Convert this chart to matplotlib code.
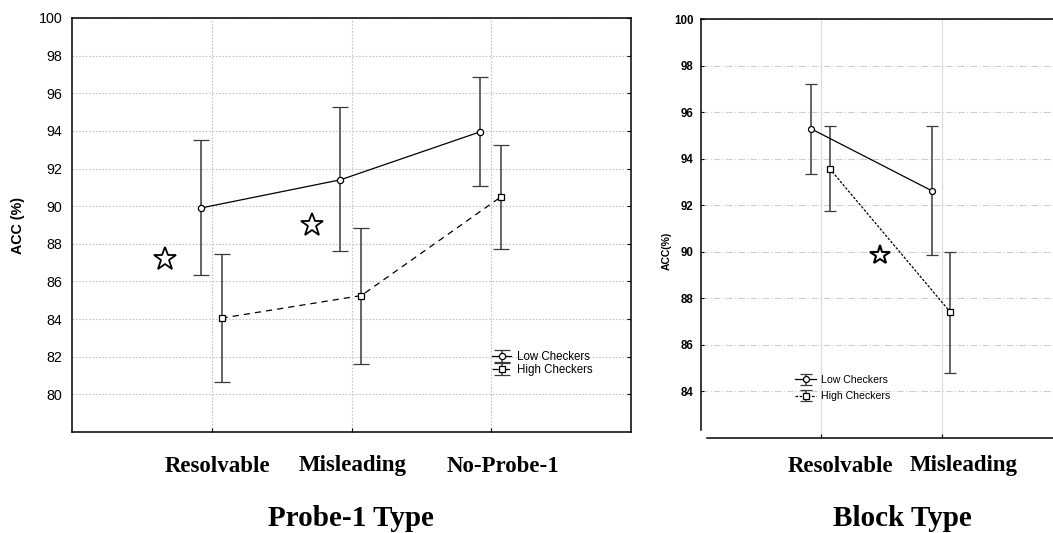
import numpy as np
import matplotlib
matplotlib.use("Agg")
from matplotlib import pyplot as plt
from matplotlib.transforms import blended_transform_factory

# ---- data ----
probe_types = ["Resolvable", "Misleading", "No-Probe-1"]
probe_low = [89.9, 91.4, 93.95]
probe_low_hi = [93.5, 95.25, 96.85]
probe_low_lo = [86.35, 87.6, 91.05]
probe_high = [84.05, 85.25, 90.5]
probe_high_hi = [87.45, 88.85, 93.25]
probe_high_lo = [80.65, 81.6, 87.75]
probe_star_x = [0.665, 1.717]
probe_star_y = [87.2, 89.0]

block_types = ["Resolvable", "Misleading"]
block_low = [95.28, 92.62]
block_low_hi = [97.2, 95.39]
block_low_lo = [93.35, 89.88]
block_high = [93.58, 87.42]
block_high_hi = [95.39, 90.0]
block_high_lo = [91.77, 84.78]
block_star_x = [1.49]
block_star_y = [89.84]

series_names = ["Low Checkers", "High Checkers"]

SANS = "Liberation Sans"
SERIF = "Liberation Serif"

W, H = 1053, 533
fig = plt.figure(figsize=(W / 100, H / 100), dpi=100)


def rect(x0, y0, x1, y1):
    return [x0 / W, 1 - y1 / H, (x1 - x0) / W, (y1 - y0) / H]


def draw_series(ax, xs, mean, hi, lo, marker, ls, ms, cap, dash):
    mean = np.array(mean)
    yerr = [mean - np.array(lo), np.array(hi) - mean]
    eb = ax.errorbar(xs, mean, yerr=yerr, fmt=marker, ls=ls, color="black",
                     lw=0.9, ms=ms, mfc="white", mec="black", mew=0.9,
                     ecolor="#3a3a3a", elinewidth=1.1, capsize=cap, capthick=1.1,
                     zorder=3)
    if dash is not None:
        eb.lines[0].set_dashes(dash)
    return eb


# ================= left panel =================
ax1 = fig.add_axes(rect(72, 18, 631, 432))
x1 = np.arange(1, len(probe_types) + 1)
h1 = draw_series(ax1, x1 - 0.08, probe_low, probe_low_hi, probe_low_lo, "o", "-", 4.5, 6, None)
h2 = draw_series(ax1, x1 + 0.07, probe_high, probe_high_hi, probe_high_lo, "s", "--", 4.2, 6, (5, 4))
ax1.plot(probe_star_x, probe_star_y, ls="none", marker="*", ms=17, mfc="white",
         mec="black", mew=1.3, zorder=4)

ax1.set_xlim(0, 4)
ax1.set_ylim(78, 100)
ax1.set_xticks(x1)
ax1.set_xticklabels([])
ax1.set_yticks(np.arange(80, 101, 2))
ax1.set_yticklabels([str(v) for v in range(80, 101, 2)], fontfamily=SANS, fontsize=10.3)
ax1.tick_params(axis="y", direction="in", length=3, left=False, right=True, pad=7)
ax1.tick_params(axis="x", direction="in", length=3, top=False)
ax1.grid(True, color="#c4c4c4", lw=0.8, ls=(0, (1.5, 1.5)))
for s in ax1.spines.values():
    s.set_linewidth(1.1)

tr1 = blended_transform_factory(ax1.transData, fig.transFigure)
for xi, lab, off in zip(x1, probe_types, [0.04, 0.01, 0.08]):
    ax1.text(xi + off, 1 - 471.5 / H, lab, transform=tr1, ha="center", va="baseline",
             fontfamily=SERIF, fontweight="bold", fontsize=16.5)
fig.text(351 / W, 1 - 526.5 / H, "Probe-1 Type", ha="center", va="baseline",
         fontfamily=SERIF, fontweight="bold", fontsize=21)
fig.text(18 / W, 1 - 225 / H, "ACC (%)", rotation=90, ha="center", va="center",
         fontfamily=SANS, fontweight="bold", fontsize=10.3)

ax1.legend([h1, h2], series_names, loc="upper left", bbox_to_anchor=(0.752, 0.195),
           frameon=False, prop={"family": SANS, "size": 8.3}, handlelength=1.6,
           handletextpad=0.5, labelspacing=0.05, borderpad=0, borderaxespad=0)

# ================= right panel =================
ax2 = fig.add_axes(rect(700.7, 19.3, 1062, 437.7))
x2 = np.arange(1, len(block_types) + 1)
g1 = draw_series(ax2, x2 - 0.08, block_low, block_low_hi, block_low_lo, "o", "-", 4.3, 4.2, None)
g2 = draw_series(ax2, x2 + 0.07, block_high, block_high_hi, block_high_lo, "s", "--", 4.3, 4.2, (2, 1.3))
ax2.plot(block_star_x, block_star_y, ls="none", marker="*", ms=15, mfc="white",
         mec="black", mew=1.5, zorder=4)

ax2.set_xlim(0, 3)
ax2.set_ylim(82, 100)
ax2.set_xticks(x2)
ax2.set_xticklabels([])
ax2.set_yticks(np.arange(84, 101, 2))
ax2.set_yticklabels([str(v) for v in range(84, 101, 2)], fontfamily=SANS,
                    fontweight="bold", fontsize=8.3)
ax2.tick_params(axis="y", direction="in", length=2.5, pad=5)
ax2.tick_params(axis="x", direction="in", length=3)
ax2.grid(True, axis="y", color="#cfcfcf", lw=0.8, ls=(0, (6, 2, 1, 2)))
ax2.grid(True, axis="x", color="#dedede", lw=0.9, ls="-")
ax2.spines["right"].set_visible(False)
ax2.spines["left"].set_bounds(82.35, 100)
ax2.spines["bottom"].set_bounds(0.05, 3)
for s in ax2.spines.values():
    s.set_linewidth(1.1)

tr2 = blended_transform_factory(ax2.transData, fig.transFigure)
for xi, lab, off in zip(x2, block_types, [0.16, 0.18]):
    ax2.text(xi + off, 1 - 471.5 / H, lab, transform=tr2, ha="center", va="baseline",
             fontfamily=SERIF, fontweight="bold", fontsize=16.5)
fig.text(902 / W, 1 - 526.5 / H, "Block Type", ha="center", va="baseline",
         fontfamily=SERIF, fontweight="bold", fontsize=21)
fig.text(667 / W, 1 - 251 / H, "ACC(%)", rotation=90, ha="center", va="center",
         fontfamily=SANS, fontweight="bold", fontsize=7.5)

ax2.legend([g1, g2], series_names, loc="upper left", bbox_to_anchor=(0.262, 0.15),
           frameon=False, prop={"family": SANS, "size": 7.6}, handlelength=2.0,
           handletextpad=0.4, labelspacing=0.6, borderpad=0, borderaxespad=0)

fig.savefig("out.png", dpi=100)
